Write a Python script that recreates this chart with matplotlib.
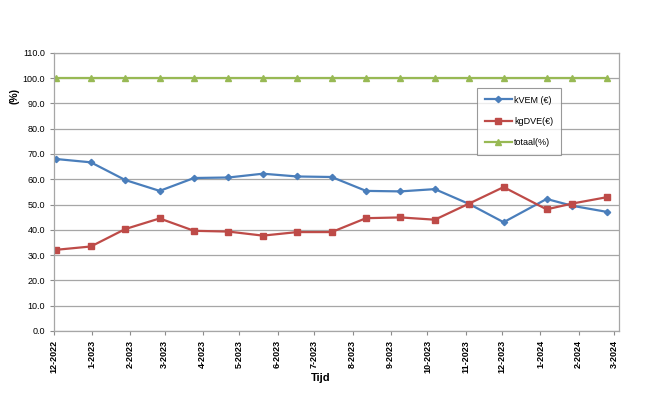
#!/usr/bin/env python3
"""Share of kVEM / kgDVE over time (4-weekly periods)."""

import matplotlib
matplotlib.use('Agg')
import matplotlib.pyplot as plt
from matplotlib.ticker import FuncFormatter
import pandas as pd

plt.rcParams['font.family'] = ['Liberation Sans', 'DejaVu Sans']

# period dates (4-weekly)
dates = [
    '2022-12-03', '2022-12-31', '2023-01-28', '2023-02-25', '2023-03-25',
    '2023-04-22', '2023-05-20', '2023-06-17', '2023-07-15', '2023-08-12',
    '2023-09-09', '2023-10-07', '2023-11-04', '2023-12-02', '2024-01-06',
    '2024-01-27', '2024-02-24',
]
kvem = [68.0, 66.7, 59.7, 55.4, 60.5, 60.7, 62.2, 61.1, 60.9, 55.4,
        55.2, 56.1, 50.2, 43.0, 52.2, 49.5, 47.1]
kgdve = [32.1, 33.4, 40.3, 44.5, 39.6, 39.3, 37.7, 39.1, 39.1, 44.6,
         44.9, 44.0, 50.4, 56.9, 48.1, 50.4, 52.9]
totaal = [100.0] * 17

month_ticks = pd.date_range('2022-12-01', '2024-03-01', freq='MS')


def main():
    x = pd.to_datetime(dates)
    fig = plt.figure(figsize=(6.70, 4.07), dpi=100)
    ax = fig.add_axes([0.0806, 0.187, 0.8434, 0.683])

    ax.plot(x, kvem, color='#4a7ebb', lw=1.6, marker='D', ms=3.2,
            label='kVEM (€)')
    ax.plot(x, kgdve, color='#be4b48', lw=1.6, marker='s', ms=5,
            label='kgDVE(€)')
    ax.plot(x, totaal, color='#98b954', lw=1.6, marker='^', ms=4.5,
            label='totaal(%)')

    ax.set_ylim(0, 110)
    ax.set_yticks(range(0, 111, 10))
    ax.yaxis.set_major_formatter(FuncFormatter(lambda v, p: f'{v:.1f}'))
    ax.set_xlim(pd.Timestamp('2022-12-01'), pd.Timestamp('2024-03-05'))
    ax.set_xticks(month_ticks)
    ax.set_xticklabels([f'{d.month}-{d.year}' for d in month_ticks],
                       rotation=90, fontweight='bold')

    ax.grid(axis='y', color='#a6a6a6', lw=0.9)
    ax.set_axisbelow(True)
    for s in ax.spines.values():
        s.set_color('#a6a6a6')
        s.set_linewidth(0.9)
    ax.tick_params(axis='both', labelsize=6.5, color='#8c8c8c',
                   length=3, width=0.8)

    fig.text(0.021, 0.765, '(%)', rotation=90, fontsize=7.5,
             fontweight='bold', ha='center', va='center')
    fig.text(0.478, 0.071, 'Tijd', fontsize=8, fontweight='bold',
             ha='center', va='center')

    leg = ax.legend(loc='upper left', bbox_to_anchor=(0.749, 0.874),
                    borderaxespad=0, fontsize=6.5, frameon=True,
                    fancybox=False, handlelength=3.0, labelspacing=1.35,
                    borderpad=0.85, handletextpad=0.25)
    leg.get_frame().set_edgecolor('#808080')
    leg.get_frame().set_linewidth(0.8)

    fig.savefig('out.png', dpi=100)
    plt.close(fig)


if __name__ == '__main__':
    main()
